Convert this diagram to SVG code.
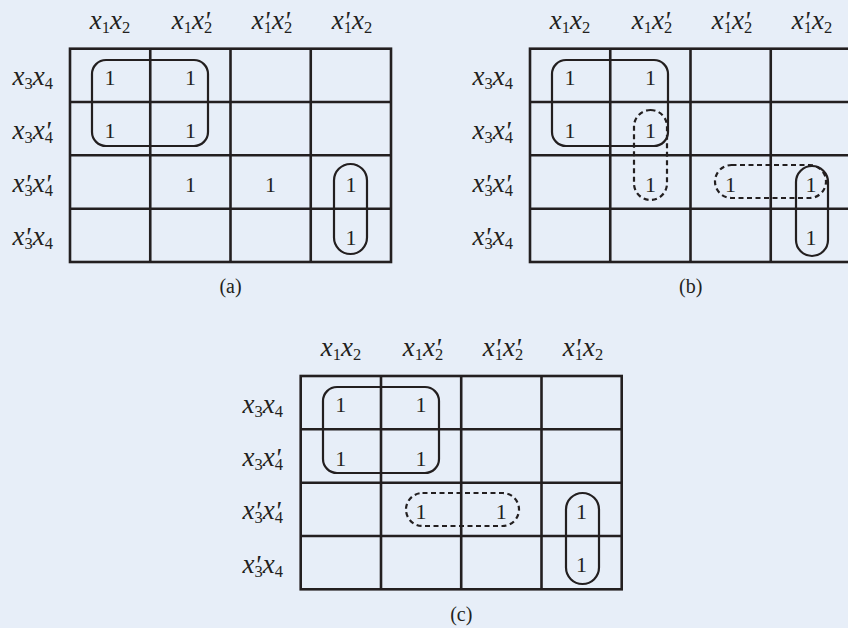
<svg xmlns="http://www.w3.org/2000/svg" width="848" height="628" viewBox="0 0 848 628" font-family="'Liberation Serif', serif">
<style>
text{fill:#231f20}
.v{font-size:27px;font-style:italic;text-anchor:middle}
.r{font-size:27px;font-style:italic;text-anchor:end}
.s{font-size:16.5px;font-style:normal}
.p{font-size:27px;font-style:italic}
.one{font-size:22px;text-anchor:middle}
.cap{font-size:20px;text-anchor:middle}
.grid{fill:none;stroke:#231f20;stroke-width:2.6}
.loop{fill:none;stroke:#231f20;stroke-width:2.2}
.dash{fill:none;stroke:#231f20;stroke-width:2.2;stroke-dasharray:5 3.5}
</style>
<rect width="848" height="628" fill="#E7EEF8"/>

<g id="map-a">
<g class="grid">
<rect x="70" y="48.7" width="321" height="213.3"/>
<path d="M150.25 48.7V262M230.5 48.7V262M310.75 48.7V262M70 102H391M70 155.3H391M70 208.7H391"/>
</g>
<text class="v" x="110" y="29">x<tspan class="s" dy="4">1</tspan><tspan dy="-4">x</tspan><tspan class="s" dy="4">2</tspan></text>
<text class="v" x="192" y="29">x<tspan class="s" dy="4">1</tspan><tspan dy="-4">x</tspan><tspan class="p" dy="1">'</tspan><tspan class="s" dx="-5.8" dy="3">2</tspan></text>
<text class="v" x="272" y="29">x<tspan class="p" dy="1">'</tspan><tspan class="s" dx="-5.8" dy="3">1</tspan><tspan dy="-4">x</tspan><tspan class="p" dy="1">'</tspan><tspan class="s" dx="-5.8" dy="3">2</tspan></text>
<text class="v" x="352" y="29">x<tspan class="p" dy="1">'</tspan><tspan class="s" dx="-5.8" dy="3">1</tspan><tspan dy="-4">x</tspan><tspan class="s" dy="4">2</tspan></text>
<text class="r" x="53" y="85.3">x<tspan class="s" dy="4">3</tspan><tspan dy="-4">x</tspan><tspan class="s" dy="4">4</tspan></text>
<text class="r" x="53" y="138.7">x<tspan class="s" dy="4">3</tspan><tspan dy="-4">x</tspan><tspan class="p" dy="1">'</tspan><tspan class="s" dx="-5.8" dy="3">4</tspan></text>
<text class="r" x="53" y="192">x<tspan class="p" dy="1">'</tspan><tspan class="s" dx="-5.8" dy="3">3</tspan><tspan dy="-4">x</tspan><tspan class="p" dy="1">'</tspan><tspan class="s" dx="-5.8" dy="3">4</tspan></text>
<text class="r" x="53" y="245.3">x<tspan class="p" dy="1">'</tspan><tspan class="s" dx="-5.8" dy="3">3</tspan><tspan dy="-4">x</tspan><tspan class="s" dy="4">4</tspan></text>
<text class="one" x="110.1" y="84.8">1</text>
<text class="one" x="190.4" y="84.8">1</text>
<text class="one" x="110.1" y="138.2">1</text>
<text class="one" x="190.4" y="138.2">1</text>
<text class="one" x="190.4" y="191.5">1</text>
<text class="one" x="270.6" y="191.5">1</text>
<text class="one" x="350.9" y="191.5">1</text>
<text class="one" x="350.9" y="244.8">1</text>
<rect class="loop" x="92" y="60" width="116" height="86" rx="14"/>
<rect class="loop" x="334" y="164" width="33" height="90" rx="16.5"/>
<text class="cap" x="230.5" y="293">(a)</text>
</g>

<g id="map-b">
<g class="grid">
<rect x="530" y="48.7" width="321" height="213.3"/>
<path d="M610.25 48.7V262M690.5 48.7V262M770.75 48.7V262M530 102H851M530 155.3H851M530 208.7H851"/>
</g>
<text class="v" x="570" y="29">x<tspan class="s" dy="4">1</tspan><tspan dy="-4">x</tspan><tspan class="s" dy="4">2</tspan></text>
<text class="v" x="652" y="29">x<tspan class="s" dy="4">1</tspan><tspan dy="-4">x</tspan><tspan class="p" dy="1">'</tspan><tspan class="s" dx="-5.8" dy="3">2</tspan></text>
<text class="v" x="732" y="29">x<tspan class="p" dy="1">'</tspan><tspan class="s" dx="-5.8" dy="3">1</tspan><tspan dy="-4">x</tspan><tspan class="p" dy="1">'</tspan><tspan class="s" dx="-5.8" dy="3">2</tspan></text>
<text class="v" x="812" y="29">x<tspan class="p" dy="1">'</tspan><tspan class="s" dx="-5.8" dy="3">1</tspan><tspan dy="-4">x</tspan><tspan class="s" dy="4">2</tspan></text>
<text class="r" x="513" y="85.3">x<tspan class="s" dy="4">3</tspan><tspan dy="-4">x</tspan><tspan class="s" dy="4">4</tspan></text>
<text class="r" x="513" y="138.7">x<tspan class="s" dy="4">3</tspan><tspan dy="-4">x</tspan><tspan class="p" dy="1">'</tspan><tspan class="s" dx="-5.8" dy="3">4</tspan></text>
<text class="r" x="513" y="192">x<tspan class="p" dy="1">'</tspan><tspan class="s" dx="-5.8" dy="3">3</tspan><tspan dy="-4">x</tspan><tspan class="p" dy="1">'</tspan><tspan class="s" dx="-5.8" dy="3">4</tspan></text>
<text class="r" x="513" y="245.3">x<tspan class="p" dy="1">'</tspan><tspan class="s" dx="-5.8" dy="3">3</tspan><tspan dy="-4">x</tspan><tspan class="s" dy="4">4</tspan></text>
<text class="one" x="570.1" y="84.8">1</text>
<text class="one" x="650.4" y="84.8">1</text>
<text class="one" x="570.1" y="138.2">1</text>
<text class="one" x="650.4" y="138.2">1</text>
<text class="one" x="650.4" y="191.5">1</text>
<text class="one" x="730.6" y="191.5">1</text>
<text class="one" x="810.9" y="191.5">1</text>
<text class="one" x="810.9" y="244.8">1</text>
<rect class="loop" x="552" y="60" width="116" height="86" rx="14"/>
<rect class="dash" x="634" y="110" width="33" height="90" rx="16.5"/>
<rect class="dash" x="715" y="165" width="111" height="33" rx="16.5"/>
<rect class="loop" x="796" y="166" width="32" height="90" rx="16"/>
<text class="cap" x="690.7" y="293">(b)</text>
</g>

<g id="map-c">
<g class="grid">
<rect x="300.7" y="376" width="321" height="213.3"/>
<path d="M381 376V589.3M461.2 376V589.3M541.5 376V589.3M300.7 429.3H621.7M300.7 482.7H621.7M300.7 536H621.7"/>
</g>
<text class="v" x="341" y="356">x<tspan class="s" dy="4">1</tspan><tspan dy="-4">x</tspan><tspan class="s" dy="4">2</tspan></text>
<text class="v" x="423" y="356">x<tspan class="s" dy="4">1</tspan><tspan dy="-4">x</tspan><tspan class="p" dy="1">'</tspan><tspan class="s" dx="-5.8" dy="3">2</tspan></text>
<text class="v" x="503" y="356">x<tspan class="p" dy="1">'</tspan><tspan class="s" dx="-5.8" dy="3">1</tspan><tspan dy="-4">x</tspan><tspan class="p" dy="1">'</tspan><tspan class="s" dx="-5.8" dy="3">2</tspan></text>
<text class="v" x="583" y="356">x<tspan class="p" dy="1">'</tspan><tspan class="s" dx="-5.8" dy="3">1</tspan><tspan dy="-4">x</tspan><tspan class="s" dy="4">2</tspan></text>
<text class="r" x="283" y="412.7">x<tspan class="s" dy="4">3</tspan><tspan dy="-4">x</tspan><tspan class="s" dy="4">4</tspan></text>
<text class="r" x="283" y="466">x<tspan class="s" dy="4">3</tspan><tspan dy="-4">x</tspan><tspan class="p" dy="1">'</tspan><tspan class="s" dx="-5.8" dy="3">4</tspan></text>
<text class="r" x="283" y="519.3">x<tspan class="p" dy="1">'</tspan><tspan class="s" dx="-5.8" dy="3">3</tspan><tspan dy="-4">x</tspan><tspan class="p" dy="1">'</tspan><tspan class="s" dx="-5.8" dy="3">4</tspan></text>
<text class="r" x="283" y="572.7">x<tspan class="p" dy="1">'</tspan><tspan class="s" dx="-5.8" dy="3">3</tspan><tspan dy="-4">x</tspan><tspan class="s" dy="4">4</tspan></text>
<text class="one" x="340.8" y="412.2">1</text>
<text class="one" x="421.1" y="412.2">1</text>
<text class="one" x="340.8" y="465.5">1</text>
<text class="one" x="421.1" y="465.5">1</text>
<text class="one" x="421.1" y="518.8">1</text>
<text class="one" x="501.3" y="518.8">1</text>
<text class="one" x="581.6" y="518.8">1</text>
<text class="one" x="581.6" y="572.2">1</text>
<rect class="loop" x="323" y="387" width="116" height="86" rx="14"/>
<rect class="dash" x="406" y="493" width="113" height="33" rx="16.5"/>
<rect class="loop" x="566" y="493" width="33" height="91" rx="16.5"/>
<text class="cap" x="461.3" y="621">(c)</text>
</g>
</svg>
